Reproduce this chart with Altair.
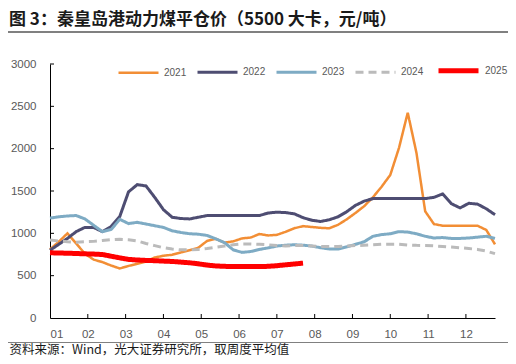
import altair as alt
import pandas as pd

years = ["2021", "2022", "2023", "2024", "2025"]
month_labels = ["01", "02", "03", "04", "05", "06", "07", "08", "09", "10", "11", "12"]
y_ticks = [0, 500, 1000, 1500, 2000, 2500, 3000]

v2021 = [810, 900, 1000, 880, 760, 690, 660, 620, 585, 615, 640, 665, 715, 735,
         747, 775, 800, 830, 910, 935, 890, 905, 940, 950, 992, 975, 982, 1018,
         1060, 1085, 1075, 1065, 1060, 1100, 1165, 1240, 1320, 1425, 1550, 1690,
         2010, 2425, 1950, 1260, 1110, 1090, 1090, 1090, 1090, 1090, 1040, 870]
v2022 = [800, 870, 940, 1020, 1070, 1070, 1020, 1080, 1200, 1490, 1575, 1560,
         1425, 1280, 1190, 1175, 1170, 1190, 1210, 1210, 1210, 1210, 1210, 1210,
         1210, 1240, 1250, 1245, 1230, 1185, 1155, 1140, 1160, 1195, 1255, 1330,
         1380, 1410, 1410, 1410, 1410, 1410, 1410, 1410, 1425, 1465, 1350, 1300,
         1355, 1345, 1290, 1220]
v2023 = [1180, 1195, 1205, 1210, 1170, 1095, 1020, 1045, 1165, 1115, 1130, 1110,
         1090, 1070, 1030, 1010, 995, 990, 975, 935, 890, 805, 775, 785, 810, 828,
         850, 860, 865, 860, 850, 830, 815, 815, 840, 870, 900, 965, 985, 995,
         1020, 1015, 995, 965, 945, 950, 940, 940, 945, 955, 965, 940]
v2024 = [920, 910, 900, 895, 900, 905, 915, 925, 930, 925, 910, 880, 855, 830,
         815, 805, 805, 810, 820, 835, 850, 865, 875, 875, 870, 865, 855, 850,
         855, 855, 850, 845, 845, 845, 850, 855, 860, 865, 870, 870, 870, 862,
         858, 857, 852, 845, 838, 830, 820, 810, 790, 760]
v2025 = [770, 768, 765, 762, 758, 755, 750, 730, 710, 692, 685, 680, 677, 672,
         668, 660, 652, 640, 625, 615, 610, 608, 607, 607, 608, 610, 618, 628,
         638, 648]

series = [v2021, v2022, v2023, v2024, v2025]
colors = ["#F28E35", "#4E4D72", "#7EABC4", "#BBBBBB", "#FF0000"]
widths = [2.5, 3, 3, 3, 5]
dashes = [[1, 0], [1, 0], [1, 0], [8, 5], [1, 0]]

title_text = "图 3：秦皇岛港动力煤平仓价（5500 大卡，元/吨）"
source_text = "资料来源：Wind，光大证券研究所，取周度平均值"

rows = []
for yr, vals in zip(years, series):
    for w, v in enumerate(vals):
        rows.append({"year": yr, "week": w, "price": v})
df = pd.DataFrame(rows)

weeks_per_year = 52
tick_pos = [i * weeks_per_year / 12 for i in range(len(month_labels))]
label_expr = "[" + ",".join("'%s'" % m for m in month_labels) + "][round(datum.value*12/52)]"

W, H = 445, 254
legend_kw = dict(title=None, orient="none", legendX=67, legendY=-16, direction="horizontal",
                 symbolType="stroke", symbolSize=1600, labelFont="Liberation Sans",
                 labelFontSize=10, labelColor="#595959", labelOffset=4, columnPadding=4,
                 padding=0)

lines = alt.Chart(df).mark_line().encode(
    x=alt.X("week:Q", scale=alt.Scale(domain=[0, 51], nice=False, zero=False),
            axis=alt.Axis(values=tick_pos, labelExpr=label_expr, ticks=False, tickSize=0,
                          labelPadding=10, labelFont="Liberation Sans", labelFontSize=11.5,
                          labelColor="#595959", domainColor="#000000", domainWidth=1,
                          grid=False, title=source_text, titleX=-41, titleY=35,
                          titleAlign="left", titleBaseline="alphabetic",
                          titleFont="Noto Sans CJK SC", titleFontSize=12.5,
                          titleFontWeight="normal", titleColor="#1a1a1a")),
    y=alt.Y("price:Q", scale=alt.Scale(domain=[0, 3000], nice=False),
            axis=alt.Axis(values=y_ticks, format="d", ticks=False, tickSize=0, labelPadding=14,
                          labelFont="Liberation Sans", labelFontSize=11.5,
                          labelColor="#595959", domainColor="#000000", domainWidth=1,
                          grid=False, title=None)),
    color=alt.Color("year:N", scale=alt.Scale(domain=years, range=colors),
                    legend=alt.Legend(**legend_kw)),
    strokeDash=alt.StrokeDash("year:N", scale=alt.Scale(domain=years, range=dashes),
                              legend=alt.Legend(**legend_kw)),
    strokeWidth=alt.StrokeWidth("year:N", scale=alt.Scale(type="ordinal", domain=years, range=widths),
                                legend=alt.Legend(**legend_kw)),
)

ytick_df = pd.DataFrame({"price": y_ticks[1:]})
yticks = alt.Chart(ytick_df).mark_rule(color="#000000", strokeWidth=1).encode(
    y="price:Q", x=alt.value(0), x2=alt.value(4))

xtick_df = pd.DataFrame({"week": tick_pos[1:]})
xticks = alt.Chart(xtick_df).mark_rule(color="#000000", strokeWidth=1).encode(
    x="week:Q", y=alt.value(H), y2=alt.value(H - 4))

one = pd.DataFrame({"k": [0]})
top_line = alt.Chart(one).mark_rule(color="#808080", strokeWidth=2).encode(
    x=alt.value(-42), x2=alt.value(460), y=alt.value(-32))
bottom_line = alt.Chart(one).mark_rule(color="#808080", strokeWidth=1).encode(
    x=alt.value(-42), x2=alt.value(460), y=alt.value(278.5))

chart = alt.layer(lines, yticks, xticks, top_line, bottom_line).properties(
    width=W, height=H,
    title=alt.TitleParams(text=title_text, anchor="start", frame="group", dx=-41,
                          offset=8, dy=19, baseline="alphabetic", font="Noto Sans CJK SC",
                          fontSize=17, fontWeight="bold", color="#1a1a1a"),
    autosize=alt.AutoSizeParams(type="none"),
    padding={"left": 42, "top": 56, "right": 13, "bottom": 38},
).configure_view(stroke=None)

chart.save("out.html", embed_options={"renderer": "svg", "actions": False})
